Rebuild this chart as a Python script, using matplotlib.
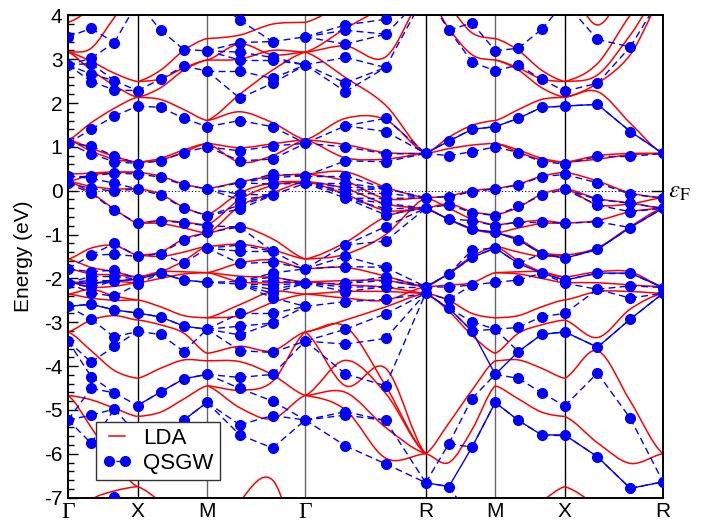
import numpy as np
import matplotlib
matplotlib.use("Agg")
import matplotlib.pyplot as plt
from matplotlib.collections import LineCollection
from matplotlib.lines import Line2D
from matplotlib.path import Path
from matplotlib.patches import PathPatch
from matplotlib.ticker import MultipleLocator

plt.rcParams['font.family'] = ['Liberation Sans', 'DejaVu Sans']
plt.rcParams['axes.unicode_minus'] = False
plt.rcParams['mathtext.fontset'] = 'stix'

# ---------------- data ----------------
sym_labels = ['Γ', 'X', 'M', 'Γ', 'R', 'M', 'X', 'R']
seg_lengths = [0.5, 0.5, 0.70711, 0.86603, 0.5, 0.5, 0.70711]   # path lengths (2pi/a)
steps_per_seg = 3

# QSGW energies (eV) at each k column (values off-screen only steer the lines)
qsgw_k00 = [4.4, 3.51, 2.87, 1.08, 0.34, 0.17, -1.78, -2.11, -2.64, -3.43, -5.23, -7.5]
qsgw_k01 = [4.5, 3.70, 3.02, 2.90, 2.66, 2.49, 1.40, 1.02, 0.84, 0.34, 0.28, 0.05, -0.06, -1.47, -1.85,
            -1.95, -2.04, -2.12, -2.20, -2.33, -2.59, -2.93, -3.91, -4.24, -4.51, -5.12, -5.76, -7.5]
qsgw_k02 = [4.5, 3.38, 2.51, 2.30, 1.70, 0.79, 0.66, 0.40, 0.17, -0.01, -0.45, -1.20, -1.45, -1.81, -1.95,
            -2.06, -2.41, -2.72, -3.34, -3.55, -4.61, -4.98, -6.98, -7.5]
qsgw_k03 = [4.3, 2.28, 1.93, 0.62, 0.38, 0.04, -0.74, -1.50, -2.02, -2.13, -2.79, -3.21, -4.90, -5.57, -7.5]
qsgw_k04 = [4.5, 3.66, 2.55, 1.90, 0.68, 0.31, -0.10, -0.69, -1.44, -1.88, -2.88, -3.28, -4.59, -5.57, -7.5]
qsgw_k05 = [4.5, 3.22, 2.84, 1.65, 0.87, 0.13, -0.40, -0.73, -1.12, -1.66, -2.04, -3.09, -3.67, -4.29, -5.23, -7.5]
qsgw_k06 = [4.5, 3.19, 2.73, 1.46, 1.00, 0.04, -0.57, -0.80, -0.95, -1.31, -2.09, -3.16, -4.19, -4.83, -7.5]
qsgw_k07 = [4.3, 3.89, 3.38, 3.16, 2.98, 2.73, 2.11, 1.60, 0.91, 0.68, 0.18, -0.08, -0.21, -0.33, -0.42,
            -0.83, -1.24, -1.38, -1.66, -2.07, -2.13, -2.80, -3.09, -3.29, -3.65, -4.26, -4.51, -5.34, -5.57, -7.5]
qsgw_k08 = [4.5, 3.40, 3.04, 2.98, 2.56, 2.45, 1.46, 1.02, 0.72, 0.38, 0.30, 0.15, -0.10, -1.38, -1.63,
            -1.88, -1.97, -2.06, -2.15, -2.25, -2.34, -2.44, -2.80, -3.02, -3.69, -4.19, -4.80, -5.13, -5.87, -7.5]
qsgw_k09 = [4.4, 3.51, 2.87, 1.08, 0.34, 0.17, -1.78, -2.11, -2.64, -3.43, -5.23, -7.5]
qsgw_k10 = [4.5, 3.78, 3.66, 3.34, 3.04, 2.46, 2.26, 1.48, 1.00, 0.68, 0.34, 0.17, 0.08, 0.00, -0.08, -0.17,
            -1.24, -1.50, -1.73, -2.11, -2.20, -2.30, -2.53, -3.16, -3.50, -4.18, -5.04, -5.12, -5.82, -7.5]
qsgw_k11 = [4.5, 3.91, 3.57, 2.81, 1.65, 1.35, 0.84, 0.66, 0.05, -0.06, -0.18, -0.29, -0.41, -0.55, -0.82,
            -1.15, -1.75, -1.96, -2.05, -2.19, -2.48, -2.81, -3.37, -4.45, -5.24, -6.23, -7.5]
qsgw_k12 = [4.5, 0.85, -0.16, -0.40, -2.19, -2.34, -6.66, -7.5]
qsgw_k13 = [4.5, 3.66, 1.14, 0.80, -0.14, -0.32, -0.65, -1.90, -2.20, -2.48, -2.68, -5.77, -6.75, -7.5]
qsgw_k14 = [4.5, 3.83, 2.94, 1.40, 0.89, -0.02, -0.50, -0.68, -0.88, -1.35, -1.52, -2.15, -2.99, -3.20,
            -4.74, -5.85, -7.5]
qsgw_k15 = [4.5, 3.19, 2.73, 1.46, 1.00, 0.04, -0.57, -0.80, -0.95, -1.31, -2.09, -3.16, -4.19, -4.83, -7.5]
qsgw_k16 = [4.5, 3.25, 2.87, 1.65, 0.87, 0.13, -0.36, -0.71, -1.12, -1.66, -2.04, -3.12, -3.67, -4.28, -5.24, -7.5]
qsgw_k17 = [4.5, 3.68, 2.54, 1.90, 0.66, 0.32, -0.10, -0.71, -1.44, -1.88, -2.87, -3.28, -4.61, -5.57, -7.5]
qsgw_k18 = [4.3, 2.27, 1.93, 0.61, 0.37, 0.03, -0.74, -1.54, -2.04, -2.11, -2.80, -3.22, -4.91, -5.57, -7.5]
qsgw_k19 = [4.5, 3.45, 2.45, 1.97, 0.78, 0.18, -0.20, -0.33, -0.71, -1.34, -1.88, -2.25, -3.57, -4.16, -6.07, -7.5]
qsgw_k20 = [4.6, 4.2, 3.28, 1.35, 0.78, -0.08, -0.29, -0.48, -0.84, -1.88, -2.17, -2.45, -2.93, -5.19, -6.79, -7.5]
qsgw_k21 = [4.5, 0.85, -0.17, -0.40, -2.21, -2.34, -6.64, -7.5]

# QSGW bands drawn with solid lines: (first column, energies)
qsgw_solid_r_to_r_1 = (12, [0.85, 1.13, 1.40, 1.46, 1.65, 1.90, 1.93, 1.97, 1.35, 0.85])
qsgw_solid_r_to_r_2 = (12, [-2.19, -1.90, -1.52, -1.31, -1.66, -1.88, -2.04, -1.88, -1.88, -2.21])
qsgw_solid_r_to_r_3 = (12, [-2.34, -2.68, -3.20, -4.19, -3.67, -3.28, -3.22, -3.57, -2.93, -2.34])
qsgw_solid_r_to_r_4 = (12, [-6.66, -6.75, -5.85, -4.83, -5.24, -5.57, -5.57, -6.07, -6.79, -6.64])
qsgw_solid_r_to_r_5 = (12, [-0.40, -0.65, -0.88, -0.95, -1.12, -1.44, -1.54, -1.34, -0.84, -0.40])
qsgw_solid_g_to_m_1 = (0, [-2.64, -2.59, -2.72, -2.79, -2.88, -3.09, -3.16])
qsgw_solid_g_to_m_2 = (0, [-2.11, -2.12, -2.06, -2.02, -1.88, -2.04, -2.09])
qsgw_solid_x_to_m_1 = (3, [-4.90, -4.59, -4.29, -4.19])
qsgw_solid_x_to_m_2 = (3, [-5.57, -5.57, -5.23, -4.83])

# LDA bands, per path segment: energies (eV) at the 4 k columns of the segment
lda_gamma_x = [
    [3.84, 4.15, 4.60, 5.00], [3.16, 3.25, 3.95, 4.60], [3.16, 2.95, 2.68, 2.49],
    [3.16, 2.75, 2.40, 2.13], [1.16, 1.55, 1.88, 2.13], [1.16, 0.97, 0.78, 0.65],
    [1.16, 0.90, 0.72, 0.65], [0.38, 0.40, 0.43, 0.42], [0.21, 0.36, 0.41, 0.42],
    [0.21, 0.10, 0.04, 0.05], [0.21, -0.05, -0.42, -0.74], [-1.56, -1.31, -1.25, -1.47],
    [-1.56, -1.75, -1.85, -1.97], [-1.78, -1.90, -1.92, -1.97], [-2.08, -2.10, -2.07, -2.10],
    [-2.08, -2.20, -2.18, -2.10], [-2.36, -2.45, -2.50, -2.49], [-2.36, -2.25, -2.40, -2.49],
    [-3.22, -2.95, -2.85, -2.95], [-3.22, -3.65, -4.10, -4.28], [-4.67, -4.77, -4.96, -5.15],
    [-4.67, -5.40, -6.20, -6.75], [-7.60, -7.05, -6.85, -6.75],
]
lda_x_m = [
    [2.49, 2.75, 3.20, 3.47], [2.49, 2.55, 2.80, 2.98], [2.13, 2.35, 2.75, 2.98],
    [2.13, 2.08, 1.85, 1.60], [0.65, 0.74, 0.93, 1.08], [0.65, 0.70, 0.88, 1.08],
    [0.42, 0.33, 0.15, 0.05], [0.05, -0.08, -0.38, -0.55], [-0.74, -0.68, -0.72, -0.78],
    [-0.74, -0.75, -0.85, -0.97], [-1.47, -1.40, -1.10, -0.97], [-1.47, -1.50, -1.40, -1.27],
    [-1.97, -1.85, -1.60, -1.27], [-1.97, -1.85, -1.85, -1.87], [-2.10, -2.00, -1.90, -1.87],
    [-2.49, -2.65, -2.85, -2.90], [-2.95, -3.06, -3.25, -3.71], [-4.28, -4.05, -3.86, -3.88],
    [-5.15, -5.05, -4.75, -4.45], [-6.75, -7.10, -7.60, -8.00],
]
lda_m_gamma = [
    [3.47, 3.55, 3.80, 3.84], [2.98, 3.00, 3.20, 3.16], [2.98, 3.35, 3.10, 3.16],
    [1.60, 2.20, 2.75, 3.16], [1.60, 1.80, 1.55, 1.16], [1.08, 0.98, 1.07, 1.16],
    [1.08, 0.65, 0.80, 1.16], [0.05, 0.20, 0.33, 0.38], [-0.55, -0.05, 0.18, 0.21],
    [-0.78, -0.20, 0.12, 0.21], [-0.97, -0.35, -0.05, 0.21], [-0.97, -0.82, -1.10, -1.56],
    [-1.27, -1.22, -1.35, -1.56], [-1.87, -1.65, -1.58, -1.78], [-1.87, -1.95, -1.98, -2.08],
    [-1.87, -2.08, -2.10, -2.08], [-2.90, -2.60, -2.30, -2.36], [-2.90, -2.85, -2.55, -2.36],
    [-3.71, -3.55, -3.65, -3.22], [-3.88, -3.90, -4.20, -4.67], [-4.45, -4.95, -5.20, -4.67],
    [-4.45, -4.55, -4.35, -3.22], [-8.50, -7.10, -6.60, -8.50],
]
lda_gamma_r = [
    [3.84, 4.30, 4.80, 5.20], [3.16, 3.70, 4.20, 4.60], [3.16, 3.30, 3.05, 4.50],
    [3.16, 2.58, 1.95, 0.85], [1.16, 1.65, 1.62, 0.85], [1.16, 1.05, 0.87, 0.85],
    [1.16, 0.75, 0.72, 0.85], [0.38, 0.43, 0.08, -0.16], [0.38, 0.22, -0.18, -0.16],
    [0.21, 0.05, -0.30, -0.40], [0.21, -0.08, -0.45, -0.40], [-1.56, -1.18, -0.60, -0.40],
    [-1.56, -1.45, -1.00, -0.16], [-1.78, -1.75, -1.95, -2.19], [-2.08, -2.05, -2.05, -2.19],
    [-2.08, -2.15, -2.20, -2.34], [-2.36, -2.30, -2.30, -2.34], [-2.36, -2.45, -2.50, -2.19],
    [-3.22, -2.95, -2.65, -2.34], [-3.22, -3.10, -4.45, -6.00], [-3.22, -4.45, -4.05, -6.00],
    [-4.67, -3.87, -4.62, -6.00], [-4.67, -4.60, -5.40, -6.00], [-4.67, -5.00, -6.10, -6.00],
]
lda_r_m = [
    [4.60, 4.20, 3.60, 3.47], [4.50, 3.70, 3.10, 2.98], [0.85, 1.22, 1.49, 1.60],
    [0.85, 0.96, 1.04, 1.08], [-0.16, -0.12, 0.00, 0.05], [-0.40, -0.30, -0.48, -0.55],
    [-0.16, -0.40, -0.65, -0.78], [-0.40, -0.66, -0.88, -0.97], [-2.19, -1.88, -1.50, -1.27],
    [-2.19, -2.15, -2.10, -1.87], [-2.34, -2.50, -2.80, -2.90], [-2.34, -2.75, -3.30, -3.71],
    [-6.00, -5.30, -4.55, -3.88], [-6.00, -6.20, -5.45, -4.45],
]
lda_m_x = [
    [3.47, 3.20, 2.75, 2.49], [2.98, 2.80, 2.55, 2.49], [2.98, 2.75, 2.35, 2.13],
    [1.60, 1.85, 2.08, 2.13], [1.08, 0.93, 0.74, 0.65], [1.08, 0.88, 0.70, 0.65],
    [0.05, 0.15, 0.33, 0.42], [-0.55, -0.38, -0.08, 0.05], [-0.78, -0.72, -0.68, -0.74],
    [-0.97, -0.85, -0.75, -0.74], [-0.97, -1.10, -1.40, -1.47], [-1.27, -1.40, -1.50, -1.47],
    [-1.27, -1.60, -1.85, -1.97], [-1.87, -1.85, -1.85, -1.97], [-1.87, -1.90, -2.00, -2.10],
    [-2.90, -2.85, -2.65, -2.49], [-3.71, -3.25, -3.06, -2.95], [-3.88, -3.86, -4.05, -4.28],
    [-4.45, -4.75, -5.05, -5.15], [-8.00, -7.60, -7.10, -6.75],
]
lda_x_r = [
    [2.49, 2.64, 3.55, 4.60], [2.49, 2.90, 4.00, 4.80], [4.80, 3.78, 4.80, 5.50],
    [2.13, 2.26, 1.54, 0.85], [2.13, 2.45, 3.10, 4.40], [0.65, 0.80, 0.85, 0.85],
    [0.65, 0.72, 0.82, 0.85], [0.42, 0.22, -0.05, -0.16], [0.05, -0.18, -0.28, -0.40],
    [0.05, -0.32, -0.30, -0.16], [-0.74, -0.68, -0.48, -0.40], [-1.47, -1.30, -0.82, -0.40],
    [-1.97, -1.85, -1.85, -2.19], [-2.10, -2.10, -2.15, -2.19], [-2.49, -2.30, -2.30, -2.34],
    [-2.95, -3.35, -2.70, -2.34], [-4.28, -3.65, -4.80, -6.00], [-5.15, -5.75, -6.22, -6.00],
    [-6.75, -7.20, -7.80, -8.00],
]

qsgw_cols = [qsgw_k00, qsgw_k01, qsgw_k02, qsgw_k03, qsgw_k04, qsgw_k05, qsgw_k06, qsgw_k07,
             qsgw_k08, qsgw_k09, qsgw_k10, qsgw_k11, qsgw_k12, qsgw_k13, qsgw_k14, qsgw_k15,
             qsgw_k16, qsgw_k17, qsgw_k18, qsgw_k19, qsgw_k20, qsgw_k21]
lda_segments = [lda_gamma_x, lda_x_m, lda_m_gamma, lda_gamma_r, lda_r_m, lda_m_x, lda_x_r]
qsgw_solid = [qsgw_solid_r_to_r_1, qsgw_solid_r_to_r_2, qsgw_solid_r_to_r_3, qsgw_solid_r_to_r_4,
              qsgw_solid_r_to_r_5, qsgw_solid_g_to_m_1, qsgw_solid_g_to_m_2,
              qsgw_solid_x_to_m_1, qsgw_solid_x_to_m_2]

# ---------------- k-path ----------------
k_sym = np.concatenate([[0.0], np.cumsum(seg_lengths)])
k_cols = []
for s in range(len(seg_lengths)):
    k_cols.extend(np.linspace(k_sym[s], k_sym[s + 1], steps_per_seg + 1)[:-1])
k_cols.append(k_sym[-1])
k_cols = np.array(k_cols)


def match(a, b):
    """monotone matching between two sorted energy lists (each point used at least once)"""
    a = np.sort(np.asarray(a))[::-1]
    b = np.sort(np.asarray(b))[::-1]
    n, m = len(a), len(b)
    D = np.full((n + 1, m + 1), np.inf)
    D[0, 0] = 0.0
    for i in range(1, n + 1):
        for j in range(1, m + 1):
            c = (a[i - 1] - b[j - 1]) ** 2
            D[i, j] = c + min(D[i - 1, j], D[i, j - 1], D[i - 1, j - 1])
    i, j = n, m
    pairs = []
    while i > 0 and j > 0:
        pairs.append((a[i - 1], b[j - 1]))
        opts = [D[i - 1, j - 1], D[i - 1, j], D[i, j - 1]]
        k = int(np.argmin(opts))
        if k == 0:
            i, j = i - 1, j - 1
        elif k == 1:
            i -= 1
        else:
            j -= 1
    return pairs


def segments(cols):
    segs = []
    for c in range(len(cols) - 1):
        for ea, eb in match(cols[c], cols[c + 1]):
            segs.append([(k_cols[c], ea), (k_cols[c + 1], eb)])
    return segs


def smooth_path(xs, ys):
    """cubic (Catmull-Rom type) Bezier path through the given points"""
    pts = np.column_stack([xs, ys]).astype(float)
    n = len(pts)
    tang = np.zeros_like(pts)
    for i in range(n):
        if i == 0:
            tang[i] = pts[1] - pts[0]
            tang[i, 1] *= 0.5
        elif i == n - 1:
            tang[i] = pts[-1] - pts[-2]
            tang[i, 1] *= 0.5
        else:
            tang[i] = (pts[i + 1] - pts[i - 1]) / 2.0
    verts = [pts[0]]
    codes = [Path.MOVETO]
    for i in range(n - 1):
        verts += [pts[i] + tang[i] / 3.0, pts[i + 1] - tang[i + 1] / 3.0, pts[i + 1]]
        codes += [Path.CURVE4] * 3
    return Path(verts, codes)


# ---------------- figure ----------------
fig = plt.figure(figsize=(7.04, 5.23), dpi=100)
ax = fig.add_axes([0.0966, 0.0486, 0.8452, 0.9221])

red = '#ff0000'
blue = '#0000ff'

for s, bands in enumerate(lda_segments):
    xs = k_cols[s * steps_per_seg: s * steps_per_seg + steps_per_seg + 1]
    for ens in bands:
        ax.add_patch(PathPatch(smooth_path(xs, ens), fill=False, edgecolor=red, lw=1.1, zorder=2))

ax.add_collection(LineCollection(segments(qsgw_cols), colors=blue, linewidths=1.0,
                                 linestyles=(0, (5, 3)), zorder=3))
for start, ens in qsgw_solid:
    ax.plot(k_cols[start:start + len(ens)], ens, color=blue, lw=1.0, zorder=3)

pk, pe = [], []
for c, col in enumerate(qsgw_cols):
    for e in col:
        pk.append(k_cols[c])
        pe.append(e)
ax.plot(pk, pe, 'o', color=blue, ms=7, mec=blue, zorder=4, linestyle='none')

# high-symmetry lines
line_cols = ['k', 'k', '#666666', '#666666', 'k', '#666666', 'k', 'k']
for kk, lc in zip(k_sym[1:-1], line_cols[1:-1]):
    ax.axvline(kk, color=lc, lw=1.0, zorder=1)

# Fermi level
ax.axhline(0.0, color='k', lw=0.8, ls=(0, (1, 2)), zorder=1)
ax.plot([0.982, 1.0], [0.6364, 0.6364], color='k', lw=1.0, transform=ax.transAxes, clip_on=False)
ax.text(1.008, 0.6364, r'$\varepsilon_{\mathrm{F}}$', transform=ax.transAxes, fontsize=18,
        ha='left', va='center')

ax.set_xlim(k_sym[0], k_sym[-1])
ax.set_ylim(-7, 4)
ax.set_xticks(k_sym)
ax.set_xticklabels(sym_labels, fontsize=15)
for lab in ax.get_xticklabels():
    if lab.get_text() == 'Γ':
        lab.set_fontfamily(['Liberation Serif', 'DejaVu Serif'])
        lab.set_fontsize(17)
ax.tick_params(axis='x', length=0, pad=3)
ax.yaxis.set_major_locator(MultipleLocator(1))
ax.yaxis.set_minor_locator(MultipleLocator(0.2))
ax.tick_params(axis='y', which='major', direction='in', length=7, width=1.0, labelsize=15, pad=4)
ax.tick_params(axis='y', which='minor', direction='in', length=4, width=1.0)
ax.set_ylabel('Energy (eV)', fontsize=15, labelpad=8)
for sp in ax.spines.values():
    sp.set_linewidth(1.4)

handles = [Line2D([], [], color=red, lw=1.1),
           Line2D([], [], color=blue, lw=1.0, ls=(0, (3, 2)), marker='o', ms=7)]
leg = ax.legend(handles, ['LDA', 'QSGW'], loc='lower left', bbox_to_anchor=(0.047, 0.036),
                borderaxespad=0, fontsize=16, numpoints=2, fancybox=False, framealpha=1,
                edgecolor='#333333', handlelength=1.3, handletextpad=0.5, borderpad=0.3,
                labelspacing=0.15)
leg.get_frame().set_linewidth(1.0)
leg.set_zorder(10)

fig.savefig('out.png', dpi=100)
